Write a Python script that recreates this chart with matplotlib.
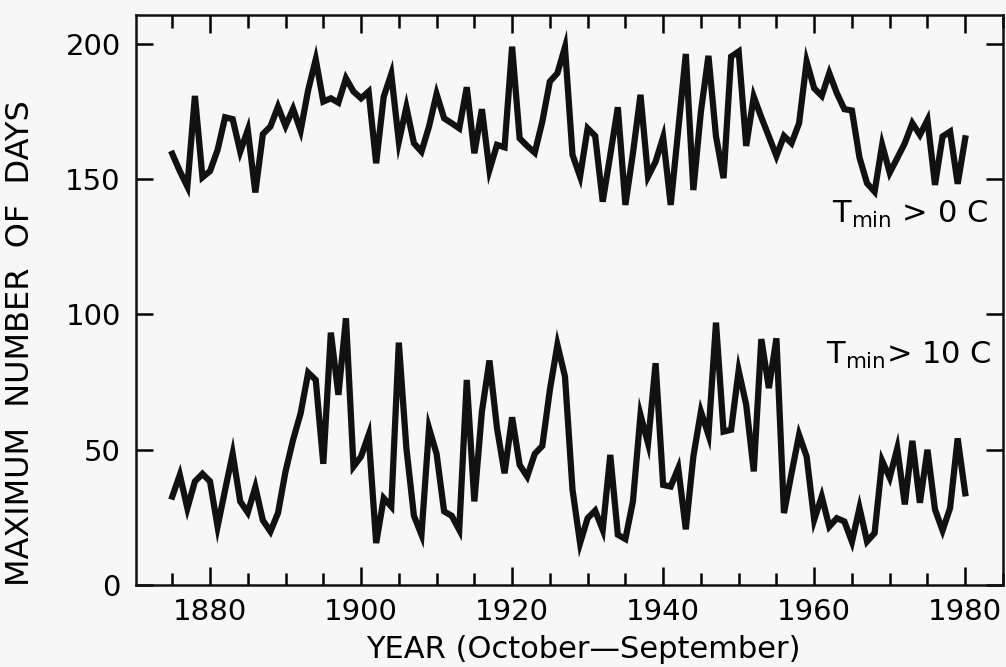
import matplotlib
matplotlib.use("Agg")
import matplotlib.pyplot as plt
from matplotlib.ticker import MultipleLocator

# years run October-September, 1875..1980
first_year = 1875

# maximum number of days with Tmin > 0 C
tmin0 = [159.4, 153, 147.3, 180.8, 150.7,
         153, 160.8, 172.9, 172.2, 160.2, 168.2, 145.1, 166.7, 169.5, 176.8,
         169.7, 176, 168, 183, 194.3, 178.7, 179.9, 178.3, 187.3, 182.4,
         179.9, 182.4, 155.9, 180.5, 188.9, 163.9, 176.6, 163.3, 160.2, 169.5,
         181.5, 172.5, 170.7, 168.8, 184, 159.6, 175.9, 153.4, 162.7, 161.8,
         199, 165.1, 162.3, 159.8, 171.3, 186.1, 189.2, 198.8, 159, 151,
         168.8, 166, 141.7, 159, 176.6, 140.5, 159.6, 181.2, 151, 156.5,
         165.5, 140.5, 168.2, 196.3, 146, 175, 195.6, 165.8, 150.4, 195.3,
         197.2, 162.3, 180.5, 172.9, 165.8, 158.6, 166, 163.3, 170.7, 193.5,
         183.6, 180.8, 189.2, 181.8, 175.9, 175.4, 158, 148.5, 145.4, 162.7,
         152.4, 157.8, 163.3, 170.7, 166.4, 171.9, 147.9, 165.8, 167.6, 148.3,
         165.1]

# maximum number of days with Tmin > 10 C
tmin10 = [32.7, 40.7, 28.4, 38.3, 41.1,
          38.3, 21.6, 35.2, 48.5, 30.9, 26.8, 36.2, 23.9, 19.8, 26.6,
          42, 53.7, 63.5, 78.5, 75.8, 44.8, 93.3, 70.3, 98.6, 43.8,
          47.5, 55.5, 15.5, 32.1, 29, 89.6, 50.6, 25.6, 18.6, 58,
          48.5, 27.2, 25.6, 20.4, 75.8, 30.9, 64.1, 83, 58, 41.3,
          62, 44.4, 40.1, 48.5, 51.4, 72.1, 88.8, 77.1, 35.2, 15.5,
          24.7, 27.5, 20.4, 48.1, 18.6, 17, 30.9, 62.9, 52.4, 82,
          37, 36.4, 43.2, 20.6, 47.5, 64.1, 55.5, 97, 56.7, 57.4,
          79.3, 66.6, 42, 90.9, 72.8, 91.2, 26.6, 41.3, 55.5, 47.5,
          24.1, 32.7, 21.6, 24.7, 23.5, 16, 28.5, 16.1, 19.2, 45.9,
          39.7, 50.5, 29.8, 53.3, 30.4, 50, 27.9, 20.2, 28.5, 54.2,
          33.9]

years = list(range(first_year, first_year + len(tmin0)))

plt.rcParams['font.family'] = ['DejaVu Sans']
plt.rcParams['mathtext.fontset'] = 'dejavusans'

fig = plt.figure(figsize=(10.06, 6.67), dpi=100)
fig.patch.set_facecolor('#f7f7f7')
ax = fig.add_axes([0.1352, 0.1229, 0.8618, 0.8546])
ax.set_facecolor('#f7f7f7')

ax.plot(years, tmin0, color='#111111', lw=4.5, solid_joinstyle='miter')
ax.plot(years, tmin10, color='#111111', lw=4.5, solid_joinstyle='miter')

ax.set_xlim(1870.2, 1985.0)
ax.set_ylim(0, 210.7)

ax.xaxis.set_major_locator(MultipleLocator(20))
ax.xaxis.set_minor_locator(MultipleLocator(5))
ax.set_yticks([0, 50, 100, 150, 200])

for s in ax.spines.values():
    s.set_linewidth(1.8)
    s.set_color('#111111')

ax.tick_params(axis='x', which='major', direction='in', top=True, length=13,
               width=1.8, labelsize=21, pad=9)
ax.tick_params(axis='x', which='minor', direction='in', top=True, length=9,
               width=1.8)
ax.tick_params(axis='y', which='major', direction='in', right=True, length=12,
               width=1.8, labelsize=21, pad=11)

ax.set_xlabel('YEAR (October\u2014September)', fontsize=22)
ax.xaxis.set_label_coords(0.5156, -0.088)
ax.set_ylabel('MAXIMUM  NUMBER  OF  DAYS', fontsize=23)
ax.yaxis.set_label_coords(-0.1153, 0.4246)

ax.text(1962.4, 137, r'T$_{\mathregular{min}}$ > 0 C', fontsize=22,
        ha='left', va='center')
ax.text(1961.6, 85, r'T$_{\mathregular{min}}$> 10 C', fontsize=22,
        ha='left', va='center')

fig.savefig('out.png', dpi=100, facecolor=fig.get_facecolor())
